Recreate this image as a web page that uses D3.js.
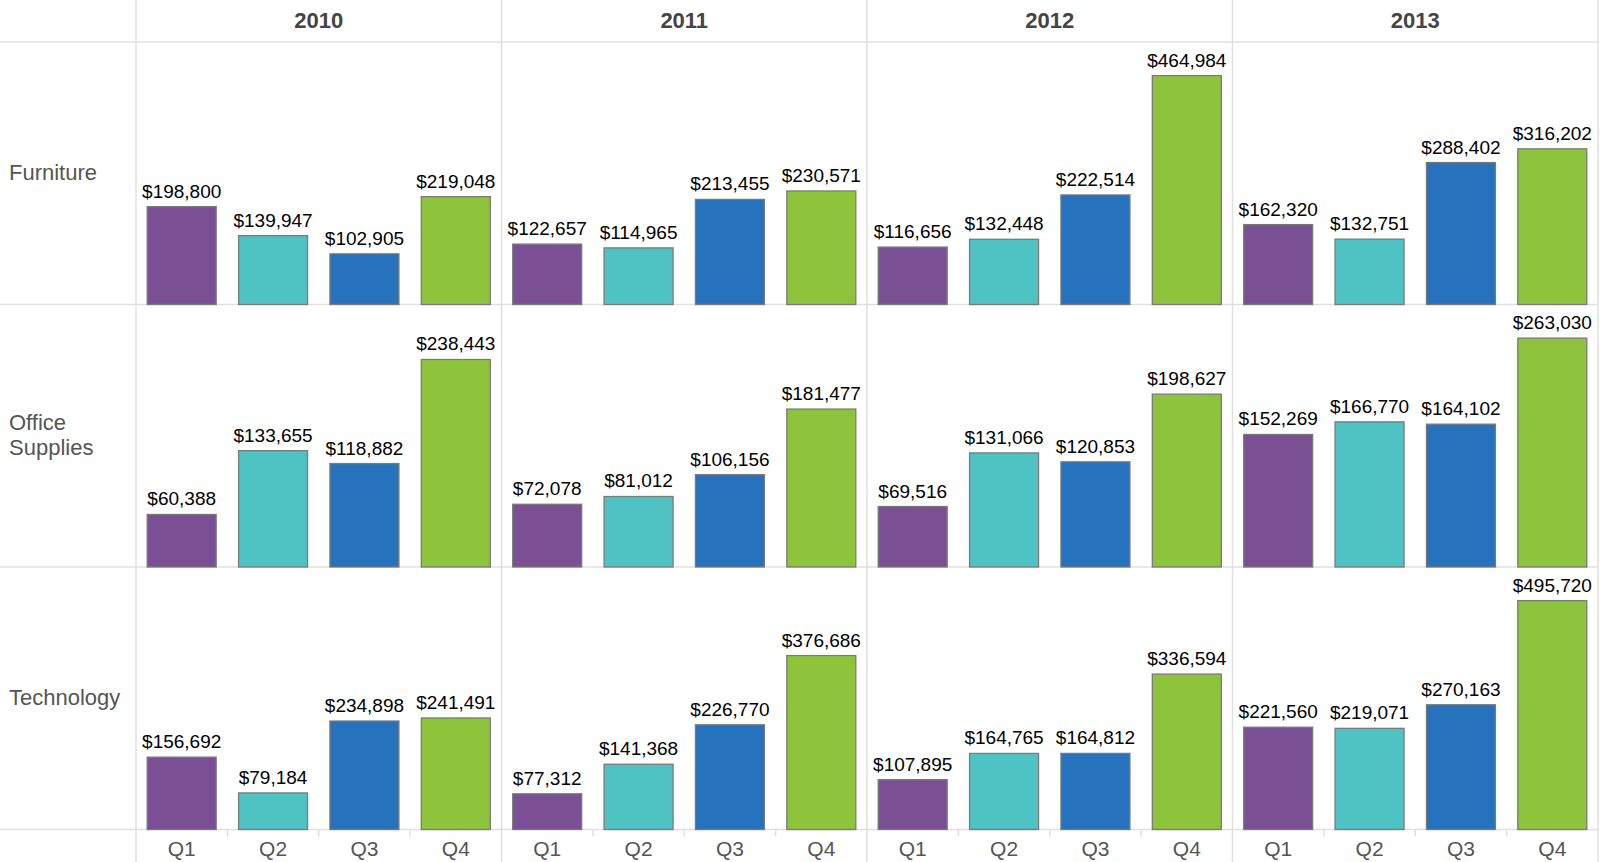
<!DOCTYPE html>
<html>
<head>
<meta charset="utf-8">
<script src="https://cdn.jsdelivr.net/npm/d3@7"></script>
<style>
  html, body { margin: 0; padding: 0; background: #fff; }
  svg { display: block; }
  text { font-family: "Liberation Sans", Arial, Helvetica, sans-serif; }
</style>
</head>
<body>
<svg id="chart" width="1600" height="862"></svg>
<script>
const years = ["2010", "2011", "2012", "2013"];
const quarters = ["Q1", "Q2", "Q3", "Q4"];
const categories = ["Furniture", "Office Supplies", "Technology"];
const colors = ["#7b4f93", "#4fc3c3", "#2672bd", "#8dc43b"];

const furniture = [
  [198800, 139947, 102905, 219048],
  [122657, 114965, 213455, 230571],
  [116656, 132448, 222514, 464984],
  [162320, 132751, 288402, 316202]
];
const officeSupplies = [
  [60388, 133655, 118882, 238443],
  [72078, 81012, 106156, 181477],
  [69516, 131066, 120853, 198627],
  [152269, 166770, 164102, 263030]
];
const technology = [
  [156692, 79184, 234898, 241491],
  [77312, 141368, 226770, 376686],
  [107895, 164765, 164812, 336594],
  [221560, 219071, 270163, 495720]
];
const seriesByCategory = [furniture, officeSupplies, technology];

(function () {
const W = 1600, H = 862;
const plotLeft = 136, plotRight = 1598, plotTop = 42, axisY = 829.5;
const rowH = (axisY - plotTop) / categories.length;
const lineColor = "#e0e0e0";

const svg = d3.select("#chart");

const xYear = d3.scaleBand().domain(years).range([plotLeft, plotRight]);
const xQ = d3.scaleBand().domain(quarters).range([0, xYear.bandwidth()])
  .paddingInner(0.245).paddingOuter(0.1225);
const yRow = d3.scaleBand().domain(categories).range([plotTop, axisY]);
const color = d3.scaleOrdinal().domain(quarters).range(colors);
const fmt = v => "$" + d3.format(",")(v);

// grid lines
const grid = svg.append("g");
[plotTop, ...categories.map(c => yRow(c) + rowH)].forEach(y => {
  grid.append("line").attr("x1", 0).attr("x2", plotRight).attr("y1", y).attr("y2", y)
    .attr("stroke", lineColor).attr("stroke-width", 1.5);
});
[plotLeft, ...years.map(y => xYear(y) + xYear.bandwidth())].forEach(x => {
  grid.append("line").attr("x1", x).attr("x2", x).attr("y1", 0).attr("y2", H)
    .attr("stroke", lineColor).attr("stroke-width", 1.5);
});

// year headers
svg.append("g").selectAll("text").data(years).join("text")
  .attr("x", d => xYear(d) + xYear.bandwidth() / 2)
  .attr("y", 27.5)
  .attr("text-anchor", "middle")
  .attr("font-size", 22).attr("font-weight", "bold").attr("fill", "#444")
  .text(d => d);

// row labels
categories.forEach(cat => {
  const cy = yRow(cat) + rowH / 2;
  const words = cat.split(" ");
  const t = svg.append("text").attr("x", 9).attr("font-size", 22).attr("fill", "#555");
  const lh = 25;
  words.forEach((w, i) => {
    t.append("tspan").attr("x", 9)
      .attr("y", cy + 6.5 + (i - (words.length - 1) / 2) * lh)
      .text(w);
  });
});

// bars
categories.forEach((cat, ci) => {
  const data = seriesByCategory[ci];
  const rowMax = d3.max(data.flat());
  const y = d3.scaleLinear().domain([0, rowMax / 0.872]).range([yRow(cat) + rowH, yRow(cat)]);
  years.forEach((yr, yi) => {
    const g = svg.append("g").attr("transform", `translate(${xYear(yr)},0)`);
    const vals = quarters.map((q, qi) => ({ q, v: data[yi][qi] }));
    g.selectAll("rect").data(vals).join("rect")
      .attr("x", d => xQ(d.q))
      .attr("width", xQ.bandwidth())
      .attr("y", d => y(d.v))
      .attr("height", d => y(0) - y(d.v))
      .attr("fill", d => color(d.q))
      .attr("stroke", "#7a7a7a").attr("stroke-width", 1.3);
    g.selectAll("text.lbl").data(vals).join("text").attr("class", "lbl")
      .attr("x", d => xQ(d.q) + xQ.bandwidth() / 2)
      .attr("y", d => y(d.v) - 9)
      .attr("text-anchor", "middle")
      .attr("font-size", 19).attr("fill", "#000")
      .text(d => fmt(d.v));
  });
});

// bottom axes
years.forEach(yr => {
  const g = svg.append("g").attr("transform", `translate(${xYear(yr)},${axisY})`);
  const ax = d3.axisBottom(xQ).tickSize(0).tickPadding(0);
  g.call(ax);
  g.select(".domain").remove();
  g.selectAll(".tick text")
    .attr("y", 26).attr("dy", 0)
    .attr("font-size", 21).attr("fill", "#555")
    .attr("font-family", '"Liberation Sans", Arial, sans-serif');
  const step = xQ.step();
  quarters.slice(1).forEach(q => {
    const bx = xQ(q) - step * xQ.paddingInner() / 2;
    g.append("line").attr("x1", bx).attr("x2", bx).attr("y1", 0).attr("y2", 7)
      .attr("stroke", lineColor).attr("stroke-width", 1.5);
  });
});
})();
</script>
</body>
</html>
